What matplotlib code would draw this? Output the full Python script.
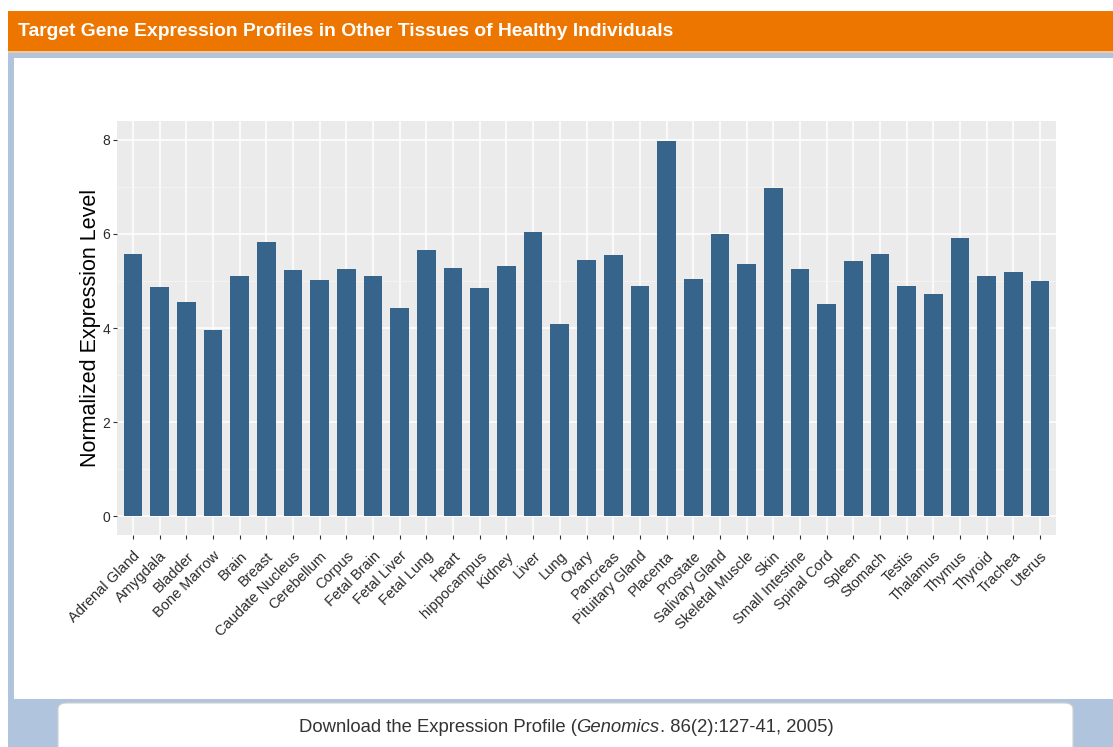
import matplotlib
matplotlib.use("Agg")
import matplotlib.pyplot as plt
from matplotlib.patches import Rectangle, FancyBboxPatch
import numpy as np

tissues = ["Adrenal Gland", "Amygdala", "Bladder", "Bone Marrow", "Brain", "Breast",
           "Caudate Nucleus", "Cerebellum", "Corpus", "Fetal Brain", "Fetal Liver",
           "Fetal Lung", "Heart", "hippocampus", "Kidney", "Liver", "Lung", "Ovary",
           "Pancreas", "Pituitary Gland", "Placenta", "Prostate", "Salivary Gland",
           "Skeletal Muscle", "Skin", "Small Intestine", "Spinal Cord", "Spleen",
           "Stomach", "Testis", "Thalamus", "Thymus", "Thyroid", "Trachea", "Uterus"]
expression = [5.58, 4.87, 4.55, 3.96, 5.11, 5.83, 5.23, 5.02, 5.25, 5.11, 4.42,
              5.65, 5.27, 4.85, 5.32, 6.05, 4.08, 5.44, 5.56, 4.90, 7.98, 5.04,
              6.00, 5.37, 6.97, 5.25, 4.50, 5.42, 5.58, 4.90, 4.72, 5.91, 5.11,
              5.18, 5.00]
y_ticks = [0, 2, 4, 6, 8]

title = "Target Gene Expression Profiles in Other Tissues of Healthy Individuals"
ylabel = "Normalized Expression Level"

W, H = 1113, 747
fig = plt.figure(figsize=(W / 100, H / 100), dpi=100)
fig.patch.set_facecolor("white")
plt.rcParams["font.family"] = ["Liberation Sans", "DejaVu Sans"]


def px_rect(x0, y0, x1, y1, color, z=0, **kw):
    r = Rectangle((x0 / W, 1 - y1 / H), (x1 - x0) / W, (y1 - y0) / H,
                  transform=fig.transFigure, facecolor=color, edgecolor="none",
                  zorder=z, **kw)
    fig.patches.append(r)
    return r


ORANGE = "#EC7600"
BLUE = "#B0C4DE"

# page frame
px_rect(8, 11, W, 51, ORANGE, z=0)
px_rect(8, 51, W, 52.5, "#F4C79A", z=0)
px_rect(8, 52.5, W, 58, BLUE, z=0)
px_rect(8, 52.5, 14, H, BLUE, z=0)
px_rect(8, 699, W, H, BLUE, z=0)
box = FancyBboxPatch((58 / W, 1 - (H + 10) / H), (1073 - 58) / W, (H + 10 - 703) / H,
                     boxstyle="round,pad=0,rounding_size=0.008",
                     transform=fig.transFigure, facecolor="white",
                     edgecolor="#D0D0D0", linewidth=0.8, zorder=1)
fig.patches.append(box)

renderer = fig.canvas.get_renderer()

ttl = fig.text(18 / W, 1 - 31.5 / H, title, color="white", fontsize=14,
               fontweight="bold", ha="left", va="center")
tw = ttl.get_window_extent(renderer).width
ttl.set_fontsize(14 * 658 / tw)

# axes
L, R, T, B = 117, 1056, 121, 535
ax = fig.add_axes([L / W, 1 - B / H, (R - L) / W, (B - T) / H])
ax.set_facecolor("#EBEBEB")
x = np.arange(len(tissues))
ax.bar(x, expression, width=0.7, color="#36648B", zorder=3)
ax.set_xlim(-0.6, len(tissues) - 1 + 0.6)
ax.set_ylim(-0.4, 8.4)
ax.set_yticks(y_ticks)
ax.set_yticks([1, 3, 5, 7], minor=True)
ax.set_xticks(x)
ax.set_xticklabels(tissues, rotation=45, ha="right", rotation_mode="anchor",
                   fontsize=10.5, color="#2b2b2b")
ax.set_yticklabels([str(v) for v in y_ticks], fontsize=10, color="#2b2b2b")
ax.grid(True, which="major", color="white", linewidth=1.1, zorder=0)
ax.grid(True, which="minor", axis="y", color="#F5F5F5", linewidth=0.6, zorder=0)
ax.set_axisbelow(True)
for s in ax.spines.values():
    s.set_visible(False)
ax.tick_params(axis="both", which="major", length=3, width=0.8, color="#333333", pad=2)
ax.tick_params(axis="x", which="major", pad=7)
ax.tick_params(axis="y", which="minor", length=0)
ax.set_ylabel(ylabel, fontsize=15.5, color="black", labelpad=1)

# bottom link text
parts = [("Download the Expression Profile (", "normal"),
         ("Genomics", "italic"),
         (". 86(2):127-41, 2005)", "normal")]
texts = []
for s, st in parts:
    t = fig.text(0, 1 - 727 / H, s, fontsize=12, style=st, color="#333333",
                 ha="left", va="center", zorder=5)
    texts.append(t)
widths = [t.get_window_extent(renderer).width for t in texts]
scale = 536 / sum(widths)
for t in texts:
    t.set_fontsize(12 * scale)
widths = [t.get_window_extent(renderer).width for t in texts]
xs = 566 - sum(widths) / 2
for t, w in zip(texts, widths):
    t.set_x(xs / W)
    xs += w

fig.savefig("out.png", dpi=100)
